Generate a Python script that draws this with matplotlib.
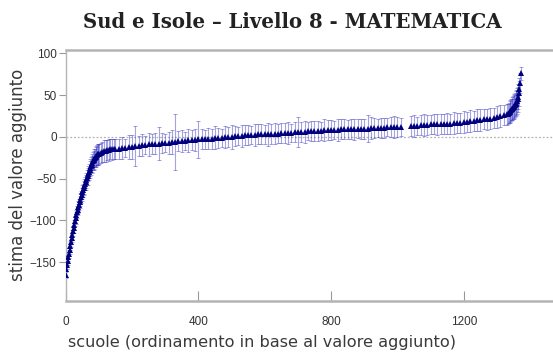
import numpy as np
import matplotlib
matplotlib.use("Agg")
import matplotlib.pyplot as plt

NAVY = "#00007f"
GREY = "#b4b4b4"

rank_low = np.concatenate([np.arange(0, 101, 2), np.arange(105, 151, 5)])
val_low = [-165, -158, -153, -148, -144, -140, -135, -130, -126, -121,
           -117, -113, -109, -105, -101, -97, -94, -90, -87, -84,
           -81, -78, -75, -72, -69, -66, -64, -61, -59, -56,
           -54, -52, -49, -47, -44, -42, -39, -37, -35, -33,
           -31, -29, -28, -26, -25, -24, -23, -22, -21, -21, -20,
           -19, -18, -17, -17, -16, -16, -15, -15, -14, -14]
hw_low = [4, 4, 5, 5, 5, 5, 5, 5, 6, 5,
          6, 6, 6, 6, 6, 7, 6, 7, 7, 7,
          7, 7, 8, 7, 8, 8, 8, 8, 9, 8,
          9, 9, 9, 10, 9, 10, 10, 10, 11, 10,
          11, 11, 11, 12, 11, 12, 12, 12, 12, 13, 12,
          12, 12, 13, 13, 12, 13, 12, 13, 12, 12]

rank_mid = np.concatenate([np.arange(160, 1011, 10), np.arange(1040, 1331, 10)])
val_mid = [-14, -13, -13, -12, -12, -11, -11, -10, -10, -9,
           -9, -8, -8, -7, -7, -7, -6, -6, -5, -5,
           -5, -4, -4, -4, -3, -3, -3, -2, -2, -1,
           -1, -1, 0, 0, 0, 1, 1, 1, 2, 2,
           2, 2, 3, 3, 3, 3, 4, 4, 4, 5,
           5, 5, 5, 6, 6, 6, 6, 7, 7, 7,
           7, 7, 8, 8, 8, 8, 8, 9, 9, 9,
           9, 9, 10, 10, 10, 10, 11, 11, 11, 11,
           11, 12, 12, 12, 12, 12,
           13, 13,
           13, 14, 14, 14, 15, 15, 15, 15, 16, 16,
           16, 17, 17, 17, 18, 18, 19, 19, 20, 20,
           21, 21, 22, 23, 24, 25, 26, 27]
hw_mid = [12, 13, 11, 14, 14, 24, 12, 13, 11, 14,
          12, 13, 20, 12, 11, 13, 14, 34, 12, 13,
          11, 14, 12, 13, 22, 12, 11, 13, 12, 14,
          12, 11, 13, 12, 14, 12, 11, 13, 12, 12,
          11, 13, 12, 12, 11, 14, 12, 13, 11, 12,
          12, 13, 11, 12, 18, 12, 13, 11, 12, 12,
          12, 11, 13, 12, 12, 11, 13, 12, 12, 11,
          12, 13, 11, 12, 12, 16, 13, 12, 11, 12,
          12, 11, 12, 13, 12, 11,
          12, 13,
          11, 12, 13, 12, 11, 12, 13, 12, 12, 13,
          12, 13, 12, 12, 13, 12, 13, 12, 13, 13,
          12, 13, 13, 12, 13, 13, 12, 13]

rank_high = np.arange(1334, 1373, 2)
val_high = [28, 29, 30, 31, 32, 33, 34, 35, 36, 37, 38, 40, 41, 43, 45, 48, 52, 57, 64, 76]
hw_high = [12, 12, 13, 13, 13, 13, 14, 14, 14, 14, 14, 15, 15, 15, 15, 15, 15, 14, 12, 8]

rank = np.concatenate([rank_low, rank_mid, rank_high])
val = np.concatenate([val_low, val_mid, val_high])
hw = np.concatenate([hw_low, hw_mid, hw_high])

fig = plt.figure(figsize=(5.53, 3.54), dpi=100)
ax = fig.add_axes([0.1188, 0.1506, 0.8812, 0.708])

ax.axhline(0, color=GREY, ls=(0, (1.5, 1.5)), lw=0.9, zorder=1)
ax.errorbar(rank, val, yerr=hw, fmt="none", ecolor=(0.2, 0.2, 0.75, 0.45),
            elinewidth=0.8, capsize=1.5, capthick=0.7, zorder=2)
ax.plot(rank, val, "^", color=NAVY, ms=4.2, mew=0, zorder=3)

ax.set_xlim(0, 1469)
ax.set_ylim(-196, 104)
ax.set_xticks([0, 400, 800, 1200])
ax.set_yticks([-150, -100, -50, 0, 50, 100])

for s in ["top", "bottom"]:
    ax.spines[s].set_color(GREY)
    ax.spines[s].set_linewidth(1.8)
ax.spines["left"].set_color(GREY)
ax.spines["left"].set_linewidth(1.0)
ax.spines["right"].set_visible(False)

ax.tick_params(axis="x", direction="in", length=7, width=0.8, color="#999999",
               labelsize=8.5, labelcolor="#333333", pad=11)
ax.tick_params(axis="y", direction="out", length=5, width=0.8, color="#999999",
               labelsize=8.5, labelcolor="#333333", pad=1.5)
for t in ax.get_xticklabels() + ax.get_yticklabels():
    t.set_fontfamily("Liberation Sans")

ax.set_xlabel("scuole (ordinamento in base al valore aggiunto)", fontsize=11.6,
              family="DejaVu Sans", color="#3a3a3a")
ax.xaxis.set_label_coords(0.403, -0.135)
ax.set_ylabel("stima del valore aggiunto", fontsize=12, family="DejaVu Sans",
              color="#3a3a3a")
ax.yaxis.set_label_coords(-0.08, 0.5)

fig.text(0.528, 0.938, "Sud e Isole \u2013 Livello 8 - MATEMATICA", ha="center", va="center",
         fontsize=14.2, fontweight="bold", family="DejaVu Serif", color="#222222")

fig.savefig("out.png", dpi=100)
